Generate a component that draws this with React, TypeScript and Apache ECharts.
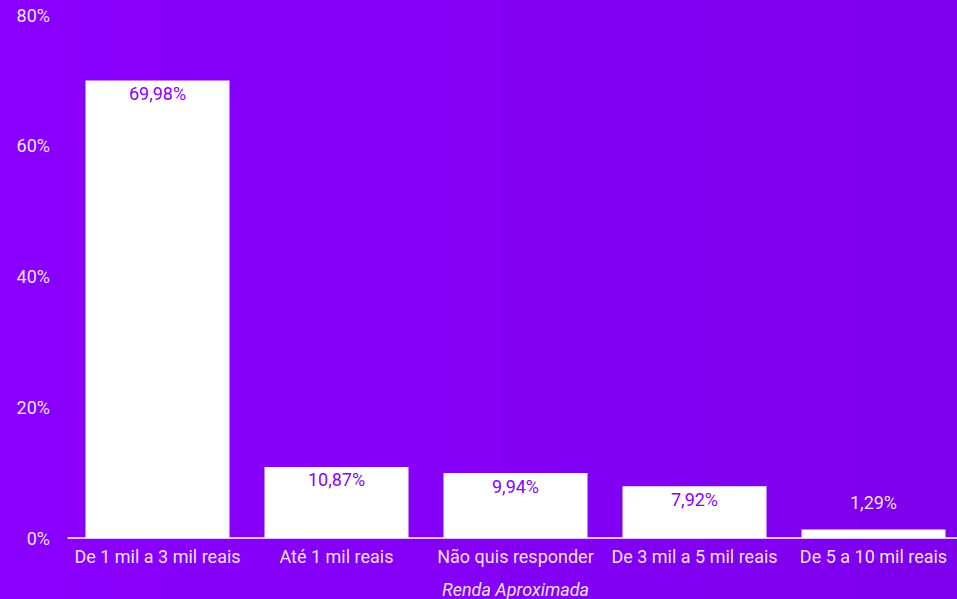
import React, { useEffect, useRef } from "react";
import * as echarts from "echarts";

const categories = ["De 1 mil a 3 mil reais", "Até 1 mil reais", "Não quis responder", "De 3 mil a 5 mil reais", "De 5 a 10 mil reais"];
const values = [69.98, 10.87, 9.94, 7.92, 1.29];
const yTicks = [0, 20, 40, 60, 80];
const axisName = "Renda Aproximada";

const fmt = (v: number) => v.toFixed(2).replace(".", ",") + "%";

export default function App() {
  const ref = useRef<HTMLDivElement>(null);
  useEffect(() => {
    if (!ref.current) return;
    const chart = echarts.init(ref.current, undefined, { renderer: "svg" });
    const font = "Roboto, 'Noto Sans', sans-serif";
    chart.setOption({
      animation: false,
      backgroundColor: {
        type: "linear", x: 0, y: 0, x2: 1, y2: 0,
        colorStops: [{ offset: 0, color: "#8a00ff" }, { offset: 1, color: "#7e00ec" }],
      },
      grid: { left: 68, top: 15, width: 895, height: 523, outerBoundsMode: "none", containLabel: false },
      xAxis: {
        type: "category",
        data: categories,
        axisLine: { show: true, lineStyle: { color: "#ffffff", width: 1.5 } },
        axisTick: { show: false },
        axisLabel: { color: "rgba(255,255,255,0.9)", fontSize: 18, fontFamily: font, margin: 9, interval: 0 },
        name: axisName,
        nameLocation: "middle",
        nameGap: 42,
        nameTextStyle: { color: "rgba(255,255,255,0.9)", fontSize: 18, fontStyle: "italic", fontFamily: font },
      },
      yAxis: {
        type: "value",
        min: yTicks[0],
        max: yTicks[yTicks.length - 1],
        interval: 20,
        axisLine: { show: false },
        axisTick: { show: false },
        splitLine: { show: false },
        axisLabel: { color: "rgba(255,255,255,0.9)", fontSize: 18, fontFamily: font, margin: 18, formatter: (v: number) => v + "%" },
      },
      series: [
        {
          type: "bar",
          barWidth: 144,
          itemStyle: { color: "#ffffff" },
          data: values.map((v, i) =>
            i === values.length - 1
              ? { value: v, label: { position: "top", distance: 18, color: "rgba(255,255,255,0.9)" } }
              : v
          ),
          label: {
            show: true,
            position: "insideTop",
            distance: 4,
            color: "#8800ff",
            fontSize: 18,
            fontFamily: font,
            formatter: (p: any) => fmt(p.value),
          },
        },
      ],
    });
    return () => chart.dispose();
  }, []);
  return <div ref={ref} style={{ width: 957, height: 599, position: "absolute", left: 0, top: 0 }} />;
}
